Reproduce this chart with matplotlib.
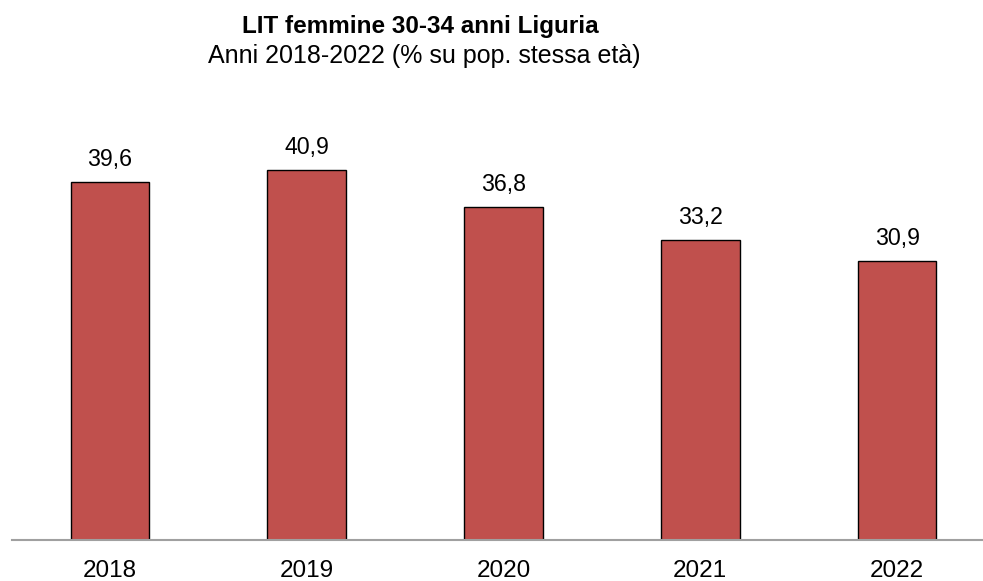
import matplotlib
matplotlib.use("Agg")
import matplotlib.pyplot as plt

years = ["2018", "2019", "2020", "2021", "2022"]
values = [39.6, 40.9, 36.8, 33.2, 30.9]
value_labels = ["39,6", "40,9", "36,8", "33,2", "30,9"]
title = "LIT femmine 30-34 anni Liguria"
subtitle = "Anni 2018-2022 (% su pop. stessa età)"

plt.rcParams['font.family'] = ['Liberation Sans', 'DejaVu Sans']

W, H = 983, 581
fig = plt.figure(figsize=(W / 100, H / 100), dpi=100)
left, right = 11.5, 995.5
bottom_px, top_px = 540, 100
ax = fig.add_axes([left / W, (H - bottom_px) / H, (right - left) / W, (bottom_px - top_px) / H])

px_per_unit = 9.04
ymax = (bottom_px - top_px) / px_per_unit

x = list(range(len(years)))
ax.bar(x, values, width=0.40, color="#C0504D", edgecolor="black", linewidth=1.0, zorder=2)
ax.set_xlim(-0.5, 4.5)
ax.set_ylim(0, ymax)

for xi, v, lab in zip(x, values, value_labels):
    ax.annotate(lab, (xi, v), xytext=(0, 16), textcoords="offset pixels",
                ha="center", va="baseline", fontsize=16.7, color="black")

for s in ["top", "right", "left"]:
    ax.spines[s].set_visible(False)
ax.spines["bottom"].set_color("#A0A0A0")
ax.spines["bottom"].set_linewidth(1.5)
ax.spines["bottom"].set_zorder(3)
ax.set_yticks([])
ax.set_xticks(x)
ax.set_xticklabels(years, fontsize=17.5)
ax.tick_params(axis="x", length=0, pad=14.5)

fig.text(420 / W, 1 - 33 / H, title, ha="center", va="baseline", fontsize=17.5, fontweight="bold")
fig.text(424 / W, 1 - 63 / H, subtitle, ha="center", va="baseline", fontsize=18)

fig.savefig("out.png", dpi=100)
